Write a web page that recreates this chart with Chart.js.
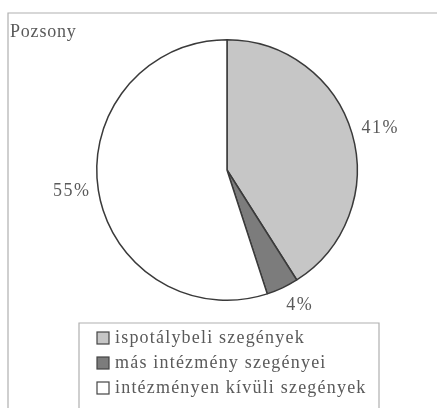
<!DOCTYPE html>
<html>
<head>
<meta charset="utf-8">
<script src="https://cdn.jsdelivr.net/npm/chart.js@4"></script>
<style>
  html, body { margin: 0; padding: 0; background: #fff; }
  #wrap { width: 437px; height: 408px; position: relative; }
</style>
</head>
<body>
<div id="wrap"><canvas id="pie"></canvas></div>
<script>
const title = 'Pozsony';
const categories = ['ispotálybeli szegények', 'más intézmény szegényei', 'intézményen kívüli szegények'];
const shares = [41, 4, 55];
const sliceColors = ['#c6c6c6', '#7c7c7c', '#ffffff'];

const FONT = '"Liberation Serif", "DejaVu Serif", serif';
const TEXT = '#5a5a5a';
// small nudges for the percent labels, per slice
const labelNudge = [[5, 1], [7, -4], [-3, -3]];

// frame, title, percent labels and the boxed legend
const decorations = {
    id: 'decorations',
    beforeDraw(chart) {
        const c = chart.ctx;
        c.save();
        c.strokeStyle = '#b0b0b0';
        c.lineWidth = 1.2;
        c.beginPath();
        c.moveTo(8, 420);
        c.lineTo(8, 13);
        c.lineTo(440, 13);
        c.stroke();
        c.fillStyle = TEXT;
        c.font = '18px ' + FONT;
        c.letterSpacing = '0.8px';
        c.textBaseline = 'middle';
        c.fillText(title, 10, 32);
        c.restore();
    },
    afterDraw(chart) {
        const c = chart.ctx;
        const meta = chart.getDatasetMeta(0);
        c.save();
        c.fillStyle = TEXT;
        c.font = '18px ' + FONT;
        c.letterSpacing = '1.5px';
        c.textAlign = 'center';
        c.textBaseline = 'middle';
        meta.data.forEach((arc, i) => {
            const mid = (arc.startAngle + arc.endAngle) / 2;
            const r = arc.outerRadius + 24;
            const x = arc.x + Math.cos(mid) * r + labelNudge[i][0];
            const y = arc.y + Math.sin(mid) * r + labelNudge[i][1];
            c.fillText(shares[i] + '%', x, y);
        });

        // legend box
        c.strokeStyle = '#b0b0b0';
        c.lineWidth = 1.2;
        c.beginPath();
        c.moveTo(79, 420);
        c.lineTo(79, 323);
        c.lineTo(379, 323);
        c.lineTo(379, 420);
        c.stroke();
        c.textAlign = 'left';
        c.font = '18px ' + FONT;
        c.letterSpacing = '1.2px';
        categories.forEach((label, i) => {
            const cy = 338 + i * 25;
            c.fillStyle = sliceColors[i];
            c.fillRect(97, cy - 6, 12, 12);
            c.strokeStyle = '#444';
            c.lineWidth = 1.2;
            c.strokeRect(97, cy - 6, 12, 12);
            c.fillStyle = TEXT;
            c.fillText(label, 115, cy);
        });
        c.restore();
    }
};

new Chart(document.getElementById('pie'), {
    type: 'pie',
    data: {
        labels: categories,
        datasets: [{
            data: shares,
            backgroundColor: sliceColors,
            borderColor: '#3a3a3a',
            borderWidth: 1.5
        }]
    },
    options: {
        responsive: true,
        maintainAspectRatio: false,
        animation: false,
        layout: { padding: { left: 96, right: 79, top: 39, bottom: 107 } },
        plugins: {
            legend: { display: false },
            tooltip: { enabled: false },
            title: { display: false }
        }
    },
    plugins: [decorations]
});
</script>
</body>
</html>
